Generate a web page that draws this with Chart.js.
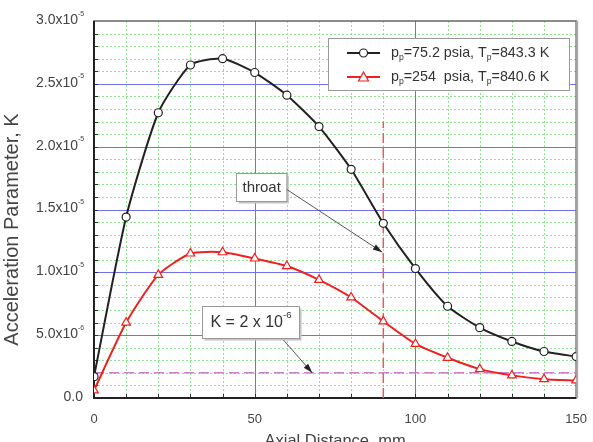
<!DOCTYPE html>
<html>
<head>
<meta charset="utf-8">
<script src="https://cdn.jsdelivr.net/npm/chart.js@4.4.1/dist/chart.umd.min.js"></script>
<style>
  html, body { margin: 0; padding: 0; background: #fff; overflow: hidden; }
  canvas { display: block; }
</style>
</head>
<body>
<canvas id="chart-accel" width="593" height="452"></canvas>
<script>
// Axial distance (mm)
const DISTANCE = [0, 10, 20, 30, 40, 50, 60, 70, 80, 90, 100, 110, 120, 130, 140, 150];
// pp = 75.2 psia, Tp = 843.3 K
const K_LOW = [0.17e-5, 1.44e-5, 2.27e-5, 2.65e-5, 2.70e-5, 2.59e-5, 2.41e-5, 2.16e-5, 1.82e-5, 1.39e-5, 1.03e-5, 0.73e-5, 0.56e-5, 0.45e-5, 0.37e-5, 0.33e-5];
// pp = 254 psia, Tp = 840.6 K
const K_HIGH = [0.06e-5, 0.60e-5, 0.98e-5, 1.15e-5, 1.16e-5, 1.11e-5, 1.05e-5, 0.94e-5, 0.80e-5, 0.61e-5, 0.43e-5, 0.32e-5, 0.23e-5, 0.18e-5, 0.15e-5, 0.14e-5];

// Reference lines
const THROAT_X = 90;
const THROAT_TOP = 2.2e-5;
const K_LIMIT = 2e-6;

// Y tick labels
const Y_TICKS = [0, 0.5e-5, 1.0e-5, 1.5e-5, 2.0e-5, 2.5e-5, 3.0e-5];
const Y_TICK_TEXT = ["0.0", "5.0x10", "1.0x10", "1.5x10", "2.0x10", "2.5x10", "3.0x10"];
const Y_TICK_EXP = ["", "-6", "-5", "-5", "-5", "-5", "-5"];

const SERIES_LABELS = ["pp=75.2 psia, Tp=843.3 K", "pp=254  psia, Tp=840.6 K"];
const Y_TITLE = "Acceleration Parameter, K";

const FONT = "'Liberation Sans', Arial, sans-serif";
const C_BLACK = "#222222";
const C_RED = "#ee2020";

const toXY = (ys) => DISTANCE.map((x, i) => ({ x: x, y: ys[i] }));

//---------------------------------------------------------
// Helpers
//---------------------------------------------------------
// draws text made of parts: {t, mode: "sub" | "sup" | undefined}
const richText = (ctx, parts, x, y, size, small = 0.6) => {
	let cx = x;
	parts.forEach((p) => {
		const s = p.mode ? size * small : size;
		ctx.font = `${s}px ${FONT}`;
		let dy = 0;
		if (p.mode === "sup") dy = -size * 0.45;
		if (p.mode === "sub") dy = size * 0.3;
		ctx.fillText(p.t, cx, y + dy);
		cx += ctx.measureText(p.t).width;
	});
	return cx - x;
};
const richWidth = (ctx, parts, size, small = 0.6) => {
	let w = 0;
	parts.forEach((p) => {
		ctx.font = `${p.mode ? size * small : size}px ${FONT}`;
		w += ctx.measureText(p.t).width;
	});
	return w;
};

const arrow = (ctx, x1, y1, x2, y2) => {
	const a = Math.atan2(y2 - y1, x2 - x1);
	ctx.save();
	ctx.strokeStyle = "#555";
	ctx.fillStyle = "#222";
	ctx.lineWidth = 1;
	ctx.beginPath();
	ctx.moveTo(x1, y1);
	ctx.lineTo(x2, y2);
	ctx.stroke();
	ctx.beginPath();
	ctx.moveTo(x2, y2);
	ctx.lineTo(x2 - 10 * Math.cos(a - 0.3), y2 - 10 * Math.sin(a - 0.3));
	ctx.lineTo(x2 - 10 * Math.cos(a + 0.3), y2 - 10 * Math.sin(a + 0.3));
	ctx.closePath();
	ctx.fill();
	ctx.restore();
};

const labelBox = (ctx, parts, cx, cy, size, padX, h) => {
	const w = richWidth(ctx, parts, size) + padX * 2;
	const x = Math.round(cx - w / 2) + 0.5;
	const y = Math.round(cy - h / 2) + 0.5;
	ctx.save();
	ctx.fillStyle = "#c4c4c4";
	ctx.fillRect(x + 2, y + 2, w, h);
	ctx.fillStyle = "#fff";
	ctx.fillRect(x, y, w, h);
	ctx.strokeStyle = "#999";
	ctx.lineWidth = 1;
	ctx.strokeRect(x, y, w, h);
	ctx.fillStyle = "#333";
	ctx.textBaseline = "middle";
	ctx.textAlign = "left";
	richText(ctx, parts, x + padX, cy + 1, size);
	ctx.restore();
	return { x, y, w, h };
};

//---------------------------------------------------------
// Plugin: grid, frame, ticks, y labels, annotations, legend
//---------------------------------------------------------
const backdrop = {
	id: "backdrop",
	beforeDatasetsDraw(chart) {
		const { ctx, chartArea: a, scales } = chart;
		const xs = scales.x, ys = scales.y;
		ctx.save();
		// minor green dotted
		ctx.strokeStyle = "#8fe58f";
		ctx.lineWidth = 1;
		ctx.setLineDash([2, 2]);
		ctx.beginPath();
		for (let v = 10; v < 150; v += 10) {
			if (v % 50 === 0) continue;
			const px = Math.round(xs.getPixelForValue(v)) + 0.5;
			ctx.moveTo(px, a.top); ctx.lineTo(px, a.bottom);
		}
		for (let i = 1; i < 30; i++) {
			if (i % 5 === 0) continue;
			const py = Math.round(ys.getPixelForValue(i * 1e-6)) + 0.5;
			ctx.moveTo(a.left, py); ctx.lineTo(a.right, py);
		}
		ctx.stroke();
		// major blue
		ctx.setLineDash([]);
		ctx.strokeStyle = "#7070ee";
		ctx.beginPath();
		[50, 100].forEach((v) => {
			const px = Math.round(xs.getPixelForValue(v)) + 0.5;
			ctx.moveTo(px, a.top); ctx.lineTo(px, a.bottom);
		});
		for (let i = 5; i < 30; i += 5) {
			const py = Math.round(ys.getPixelForValue(i * 1e-6)) + 0.5;
			ctx.moveTo(a.left, py); ctx.lineTo(a.right, py);
		}
		ctx.stroke();
		// ticks (inward)
		ctx.strokeStyle = "#333";
		ctx.beginPath();
		for (let v = 10; v < 150; v += 10) {
			const px = Math.round(xs.getPixelForValue(v)) + 0.5;
			ctx.moveTo(px, a.bottom); ctx.lineTo(px, a.bottom - 4);
		}
		for (let i = 1; i < 30; i++) {
			const py = Math.round(ys.getPixelForValue(i * 1e-6)) + 0.5;
			ctx.moveTo(a.left, py); ctx.lineTo(a.left + 4, py);
		}
		ctx.stroke();
		// frame
		ctx.strokeStyle = "#666";
		ctx.lineWidth = 1.5;
		ctx.strokeRect(a.left, a.top, a.right - a.left, a.bottom - a.top);
		ctx.strokeStyle = "#aaa";
		ctx.lineWidth = 2;
		ctx.beginPath();
		ctx.moveTo(a.right + 1, a.top); ctx.lineTo(a.right + 1, a.bottom);
		ctx.stroke();
		ctx.strokeStyle = "#222";
		ctx.lineWidth = 2;
		ctx.beginPath();
		ctx.moveTo(a.left, a.top); ctx.lineTo(a.left, a.bottom); ctx.lineTo(a.right, a.bottom);
		ctx.stroke();
		// y tick labels
		ctx.fillStyle = "#444";
		ctx.textBaseline = "middle";
		Y_TICKS.forEach((v, i) => {
			const py = ys.getPixelForValue(v) - 1;
			ctx.font = `14px ${FONT}`;
			const w = ctx.measureText(Y_TICK_TEXT[i]).width;
			const x0 = (Y_TICK_EXP[i] ? 78 : 83) - w;
			const parts = [{ t: Y_TICK_TEXT[i] }];
			if (Y_TICK_EXP[i]) parts.push({ t: Y_TICK_EXP[i], mode: "sup" });
			richText(ctx, parts, x0, py, 14, 0.5);
		});
		// y title
		ctx.save();
		ctx.translate(12, (a.top + a.bottom) / 2 + 20);
		ctx.rotate(-Math.PI / 2);
		ctx.textAlign = "center";
		ctx.textBaseline = "middle";
		ctx.font = `20px ${FONT}`;
		ctx.fillText(Y_TITLE, 0, 0);
		ctx.restore();
		ctx.restore();
	},
	afterDatasetsDraw(chart) {
		const { ctx, scales } = chart;
		const xs = scales.x, ys = scales.y;
		// throat annotation
		const tb = labelBox(ctx, [{ t: "throat" }], xs.getPixelForValue(52), ys.getPixelForValue(1.68e-5), 15, 6, 28);
		arrow(ctx, tb.x + tb.w, tb.y + tb.h / 2 + 2, xs.getPixelForValue(THROAT_X) - 1, ys.getPixelForValue(1.16e-5));
		// K limit annotation
		labelBox(ctx, [{ t: "K = 2 x 10" }, { t: "-6", mode: "sup" }], xs.getPixelForValue(48.6), ys.getPixelForValue(0.605e-5), 16, 8, 32);
		arrow(ctx, xs.getPixelForValue(59), ys.getPixelForValue(0.46e-5), xs.getPixelForValue(67.9), ys.getPixelForValue(K_LIMIT));

		// legend
		ctx.save();
		const lx = 328.5, ly = 38.5, lw = 241, lh = 52;
		ctx.fillStyle = "#fff";
		ctx.fillRect(lx, ly, lw, lh);
		ctx.strokeStyle = "#999";
		ctx.lineWidth = 1;
		ctx.strokeRect(lx, ly, lw, lh);
		const rows = [
			{ color: C_BLACK, mk: "circle", parts: [{ t: "p" }, { t: "p", mode: "sub" }, { t: "=75.2 psia, T" }, { t: "p", mode: "sub" }, { t: "=843.3 K" }] },
			{ color: C_RED, mk: "triangle", parts: [{ t: "p" }, { t: "p", mode: "sub" }, { t: "=254  psia, T" }, { t: "p", mode: "sub" }, { t: "=840.6 K" }] },
		];
		rows.forEach((r, i) => {
			const y = 53 + i * 24;
			ctx.strokeStyle = r.color;
			ctx.lineWidth = 2;
			ctx.beginPath();
			ctx.moveTo(347, y); ctx.lineTo(380, y);
			ctx.stroke();
			ctx.fillStyle = "#fff";
			ctx.lineWidth = 1.2;
			ctx.beginPath();
			if (r.mk === "circle") {
				ctx.arc(363.5, y, 4, 0, Math.PI * 2);
			} else {
				ctx.moveTo(363.5, y - 5); ctx.lineTo(368.5, y + 4); ctx.lineTo(358.5, y + 4); ctx.closePath();
			}
			ctx.fill();
			ctx.stroke();
			ctx.fillStyle = "#333";
			ctx.textBaseline = "middle";
			richText(ctx, r.parts, 391, y, 14.3);
		});
		ctx.restore();
	},
};

//---------------------------------------------------------
// Chart
//---------------------------------------------------------
const CHART_DATA = {
	datasets: [
		{
			label: SERIES_LABELS[0],
			data: toXY(K_LOW),
			borderColor: C_BLACK,
			backgroundColor: "#fff",
			borderWidth: 2,
			tension: 0.2,
			pointStyle: "circle",
			pointRadius: 4,
			pointBorderWidth: 1.2,
			pointBorderColor: C_BLACK,
			pointBackgroundColor: "#fff",
			order: 1,
		},
		{
			label: SERIES_LABELS[1],
			data: toXY(K_HIGH),
			borderColor: C_RED,
			backgroundColor: "#fff",
			borderWidth: 2,
			tension: 0.2,
			pointStyle: "triangle",
			pointRadius: 5,
			pointBorderWidth: 1.2,
			pointBorderColor: C_RED,
			pointBackgroundColor: "#fff",
			order: 2,
		},
		{
			label: "throat",
			data: [{ x: THROAT_X, y: 0 }, { x: THROAT_X, y: THROAT_TOP }],
			borderColor: "#e85c5c",
			borderWidth: 1.5,
			borderDash: [10, 5],
			pointRadius: 0,
			order: 3,
		},
		{
			label: "K limit",
			data: [{ x: 0, y: K_LIMIT }, { x: 150, y: K_LIMIT }],
			borderColor: "#cc7ecc",
			borderWidth: 1.5,
			borderDash: [10, 5],
			pointRadius: 0,
			order: 3,
		},
	],
};

const CHART_CONFIG = {
	type: "line",
	data: CHART_DATA,
	options: {
		responsive: false,
		animation: false,
		devicePixelRatio: 1,
		layout: { padding: { top: 21, right: 13, left: 0, bottom: 0 } },
		scales: {
			x: {
				type: "linear",
				min: 0,
				max: 150,
				border: { display: false },
				grid: { display: false },
				ticks: {
					stepSize: 50,
					padding: 6,
					color: "#444",
					font: { family: FONT, size: 13 },
				},
				title: {
					display: true,
					text: "Axial Distance, mm",
					color: "#444",
					font: { family: FONT, size: 16.5 },
					padding: { top: 0, bottom: 1 },
				},
				afterFit: (scale) => { scale.height = 54; },
			},
			y: {
				min: 0,
				max: 3e-5,
				border: { display: false },
				grid: { display: false },
				ticks: { display: false, stepSize: 0.5e-5 },
				title: { display: false, text: Y_TITLE },
				afterFit: (scale) => { scale.width = 94; },
			},
		},
		plugins: {
			legend: { display: false },
			tooltip: { enabled: false },
		},
	},
	plugins: [backdrop],
};

new Chart(document.getElementById("chart-accel"), CHART_CONFIG);
</script>
</body>
</html>
